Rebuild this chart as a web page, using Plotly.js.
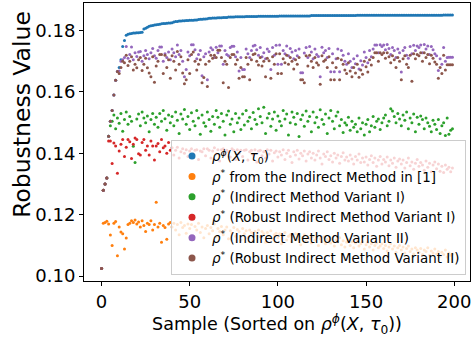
<!DOCTYPE html>
<html><head><meta charset="utf-8">
<script src="https://cdn.plot.ly/plotly-3.0.1.min.js"></script>
<style>html,body{margin:0;padding:0;background:#fff}#chart{width:476px;height:339px}</style>
</head><body><div id="chart"></div>
<script>
const seriesNames = [
  "<i>ρ</i><sup><i>ϕ</i></sup>(<i>X</i>, <i>τ</i><sub>0</sub>)",
  "<i>ρ</i><sup>*</sup> from the Indirect Method in [1]",
  "<i>ρ</i><sup>*</sup> (Indirect Method Variant I)",
  "<i>ρ</i><sup>*</sup> (Robust Indirect Method Variant I)",
  "<i>ρ</i><sup>*</sup> (Indirect Method Variant II)",
  "<i>ρ</i><sup>*</sup> (Robust Indirect Method Variant II)"
];
const colors = ["#1f77b4","#ff7f0e","#2ca02c","#d62728","#9467bd","#8c564b"];
const yTicks = [0.10,0.12,0.14,0.16,0.18];
const xTicks = [0,50,100,150,200];
const yLabel = "Robustness Value";
const xLabel = "Sample (Sorted on <i>ρ</i><sup><i>ϕ</i></sup>(<i>X</i>, <i>τ</i><sub>0</sub>))";

const rhoPhi = [
0.1025,0.1280,0.1300,0.1320,0.1456,0.1505,0.1540,0.1590,0.1638,0.1667,
0.1680,0.1705,0.1748,0.1768,0.1785,0.1788,0.1790,0.1791,0.1792,0.1792,
0.1793,0.1793,0.1794,0.1795,0.1805,0.1808,0.1811,0.1814,0.1816,0.1817,
0.1818,0.1819,0.1820,0.1821,0.1822,0.1823,0.1823,0.1824,0.1825,0.1825,
0.1826,0.1828,0.1830,0.1830,0.1831,0.1831,0.1832,0.1832,0.1833,0.1833,
0.1834,0.1834,0.1834,0.1835,0.1835,0.1836,0.1837,0.1837,0.1838,0.1838,
0.1839,0.1840,0.1840,0.1841,0.1841,0.1841,0.1842,0.1842,0.1842,0.1843,
0.1843,0.1843,0.1844,0.1844,0.1844,0.1844,0.1845,0.1845,0.1845,0.1845,
0.1845,0.1845,0.1846,0.1846,0.1846,0.1846,0.1846,0.1846,0.1846,0.1847,
0.1847,0.1847,0.1847,0.1847,0.1847,0.1847,0.1847,0.1847,0.1847,0.1847,
0.1847,0.1848,0.1848,0.1848,0.1848,0.1848,0.1848,0.1848,0.1848,0.1848,
0.1848,0.1848,0.1848,0.1848,0.1848,0.1848,0.1848,0.1848,0.1848,0.1849,
0.1849,0.1849,0.1849,0.1849,0.1849,0.1849,0.1849,0.1849,0.1849,0.1849,
0.1849,0.1849,0.1849,0.1849,0.1849,0.1849,0.1849,0.1849,0.1849,0.1849,
0.1849,0.1849,0.1849,0.1849,0.1849,0.1850,0.1850,0.1850,0.1850,0.1850,
0.1850,0.1850,0.1850,0.1850,0.1850,0.1850,0.1850,0.1850,0.1850,0.1850,
0.1850,0.1850,0.1850,0.1850,0.1850,0.1850,0.1850,0.1850,0.1850,0.1850,
0.1850,0.1850,0.1850,0.1850,0.1850,0.1850,0.1850,0.1850,0.1850,0.1850,
0.1850,0.1850,0.1850,0.1850,0.1850,0.1850,0.1850,0.1850,0.1850,0.1850,
0.1850,0.1850,0.1850,0.1850,0.1851,0.1851,0.1851,0.1851,0.1851,0.1851
];
const indirect = [
0.1025,0.1172,0.1175,0.1179,0.1170,0.1134,0.1100,0.1172,0.1178,0.1066,
0.1160,0.1144,0.1138,0.1088,0.1124,0.1168,0.1172,0.1180,0.1175,0.1183,
0.1170,0.1176,0.1160,0.1180,0.1165,0.1145,0.1172,0.1168,0.1180,0.1150,
0.1168,0.1241,0.1160,0.1172,0.1110,0.1165,0.1158,0.1120,0.1170,0.1175,
0.1160,0.1172,0.1150,0.1168,0.1135,0.1175,0.1158,0.1165,0.1140,0.1170,
0.1155,0.1168,0.1130,0.1162,0.1150,0.1172,0.1142,0.1160,0.1125,0.1155,
0.1165,0.1138,0.1158,0.1148,0.1170,0.1128,0.1155,0.1145,0.1162,0.1135,
0.1150,0.1160,0.1122,0.1148,0.1140,0.1158,0.1130,0.1152,0.1145,0.1118,
0.1155,0.1138,0.1148,0.1125,0.1150,0.1142,0.1115,0.1145,0.1132,0.1150,
0.1128,0.1145,0.1138,0.1110,0.1142,0.1130,0.1148,0.1120,0.1135,0.1140,
0.1125,0.1138,0.1105,0.1132,0.1142,0.1118,0.1130,0.1135,0.1112,0.1128,
0.1138,0.1120,0.1130,0.1102,0.1125,0.1135,0.1115,0.1128,0.1122,0.1108,
0.1130,0.1118,0.1125,0.1100,0.1122,0.1112,0.1128,0.1105,0.1120,0.1115,
0.1108,0.1122,0.1098,0.1118,0.1112,0.1125,0.1102,0.1115,0.1095,0.1110,
0.1118,0.1100,0.1112,0.1092,0.1108,0.1115,0.1098,0.1105,0.1112,0.1088,
0.1102,0.1110,0.1095,0.1105,0.1085,0.1100,0.1108,0.1092,0.1098,0.1105,
0.1090,0.1100,0.1082,0.1095,0.1105,0.1088,0.1098,0.1078,0.1092,0.1100,
0.1085,0.1095,0.1075,0.1090,0.1098,0.1080,0.1088,0.1072,0.1092,0.1085,
0.1078,0.1090,0.1070,0.1085,0.1080,0.1092,0.1068,0.1082,0.1075,0.1088,
0.1072,0.1080,0.1065,0.1078,0.1070,0.1085,0.1062,0.1075,0.1068,0.1072
];
const variantI = [
0.1025,0.1280,0.1300,0.1320,0.1456,0.1490,0.1505,0.1525,0.1480,0.1515,
0.1498,0.1530,0.1472,0.1510,0.1535,0.1495,0.1520,0.1505,0.1423,0.1370,
0.1512,0.1528,0.1490,0.1535,0.1515,0.1500,0.1522,0.1470,0.1510,0.1530,
0.1495,0.1518,0.1485,0.1530,0.1505,0.1540,0.1513,0.1475,0.1525,0.1500,
0.1520,0.1490,0.1535,0.1508,0.1465,0.1528,0.1512,0.1543,0.1495,0.1520,
0.1478,0.1532,0.1505,0.1490,0.1540,0.1515,0.1462,0.1525,0.1500,0.1488,
0.1535,0.1510,0.1472,0.1520,0.1495,0.1540,0.1518,0.1485,0.1530,0.1505,
0.1460,0.1525,0.1538,0.1495,0.1512,0.1470,0.1530,0.1500,0.1515,0.1478,
0.1528,0.1492,0.1540,0.1505,0.1518,0.1480,0.1533,0.1510,0.1495,0.1545,
0.1520,0.1500,0.1550,0.1465,0.1515,0.1530,0.1488,0.1512,0.1535,0.1475,
0.1522,0.1505,0.1490,0.1540,0.1512,0.1528,0.1460,0.1500,0.1535,0.1518,
0.1495,0.1530,0.1455,0.1510,0.1525,0.1488,0.1538,0.1505,0.1520,0.1470,
0.1535,0.1500,0.1518,0.1485,0.1542,0.1510,0.1495,0.1528,0.1465,0.1515,
0.1540,0.1505,0.1480,0.1522,0.1535,0.1490,0.1510,0.1468,0.1500,0.1492,
0.1518,0.1475,0.1505,0.1485,0.1495,0.1470,0.1515,0.1480,0.1500,0.1460,
0.1495,0.1510,0.1470,0.1490,0.1520,0.1485,0.1505,0.1512,0.1478,0.1500,
0.1515,0.1525,0.1490,0.1505,0.1545,0.1538,0.1520,0.1500,0.1530,0.1512,
0.1490,0.1525,0.1508,0.1535,0.1480,0.1515,0.1500,0.1528,0.1470,0.1518,
0.1495,0.1522,0.1510,0.1480,0.1515,0.1500,0.1488,0.1470,0.1508,0.1495,
0.1478,0.1510,0.1465,0.1490,0.1500,0.1458,0.1515,0.1462,0.1475,0.1480
];
const robustI = [
0.1025,0.1280,0.1300,0.1320,0.1440,0.1440,0.1367,0.1434,0.1424,0.1335,
0.1408,0.1430,0.1445,0.1390,0.1420,0.1445,0.1438,0.1383,0.1430,0.1450,
0.1445,0.1399,0.1395,0.1435,0.1445,0.1410,0.1424,0.1395,0.1440,0.1424,
0.1378,0.1424,0.1432,0.1405,0.1445,0.1418,0.1424,0.1400,0.1435,0.1410,
0.1418,0.1395,0.1410,0.1420,0.1385,0.1405,0.1415,0.1400,0.1412,0.1390,
0.1408,0.1415,0.1398,0.1410,0.1412,0.1380,0.1408,0.1405,0.1415,0.1392,
0.1415,0.1410,0.1385,0.1408,0.1418,0.1398,0.1412,0.1375,0.1412,0.1415,
0.1395,0.1410,0.1405,0.1388,0.1415,0.1410,0.1380,0.1412,0.1400,0.1410,
0.1390,0.1410,0.1412,0.1378,0.1405,0.1410,0.1395,0.1412,0.1372,0.1408,
0.1410,0.1392,0.1405,0.1385,0.1412,0.1398,0.1410,0.1375,0.1402,0.1408,
0.1388,0.1405,0.1395,0.1412,0.1380,0.1400,0.1410,0.1390,0.1370,0.1405,
0.1395,0.1410,0.1382,0.1400,0.1392,0.1408,0.1375,0.1398,0.1405,0.1385,
0.1400,0.1378,0.1395,0.1408,0.1385,0.1365,0.1398,0.1390,0.1405,0.1380,
0.1392,0.1372,0.1400,0.1385,0.1395,0.1368,0.1390,0.1402,0.1378,0.1388,
0.1375,0.1395,0.1382,0.1365,0.1390,0.1378,0.1398,0.1370,0.1385,0.1372,
0.1388,0.1362,0.1380,0.1392,0.1370,0.1385,0.1358,0.1378,0.1390,0.1365,
0.1380,0.1372,0.1388,0.1360,0.1378,0.1368,0.1385,0.1355,0.1375,0.1382,
0.1365,0.1378,0.1352,0.1370,0.1385,0.1360,0.1372,0.1348,0.1368,0.1380,
0.1358,0.1370,0.1362,0.1345,0.1375,0.1355,0.1368,0.1340,0.1362,0.1372,
0.1350,0.1365,0.1342,0.1358,0.1338,0.1362,0.1348,0.1355,0.1340,0.1352
];
const variantII = [
0.1025,0.1280,0.1300,0.1320,0.1456,0.1505,0.1540,0.1590,0.1638,0.1667,
0.1668,0.1700,0.1705,0.1712,0.1748,0.1710,0.1722,0.1747,0.1705,0.1728,
0.1716,0.1730,0.1732,0.1700,0.1718,0.1735,0.1722,0.1708,0.1728,0.1742,
0.1718,0.1710,0.1735,0.1747,0.1747,0.1700,0.1725,0.1712,0.1730,0.1705,
0.1740,0.1728,0.1715,0.1753,0.1722,0.1735,0.1700,0.1650,0.1673,0.1730,
0.1718,0.1754,0.1754,0.1738,0.1708,0.1722,0.1735,0.1653,0.1715,0.1725,
0.1640,0.1730,0.1744,0.1738,0.1712,0.1746,0.1728,0.1750,0.1750,0.1690,
0.1735,0.1722,0.1718,0.1745,0.1749,0.1749,0.1715,0.1730,0.1668,0.1712,
0.1673,0.1673,0.1740,0.1725,0.1712,0.1735,0.1750,0.1752,0.1738,0.1720,
0.1745,0.1715,0.1728,0.1708,0.1740,0.1732,0.1673,0.1745,0.1720,0.1752,
0.1690,0.1753,0.1690,0.1735,0.1725,0.1750,0.1718,0.1742,0.1730,0.1708,
0.1735,0.1718,0.1740,0.1663,0.1663,0.1727,0.1745,0.1712,0.1748,0.1730,
0.1708,0.1740,0.1722,0.1716,0.1650,0.1746,0.1728,0.1735,0.1712,0.1742,
0.1666,0.1725,0.1666,0.1708,0.1740,0.1666,0.1735,0.1720,0.1700,0.1690,
0.1725,0.1700,0.1680,0.1708,0.1692,0.1718,0.1675,0.1702,0.1688,0.1730,
0.1712,0.1695,0.1735,0.1715,0.1740,0.1753,0.1753,0.1728,0.1754,0.1748,
0.1753,0.1738,0.1755,0.1742,0.1722,0.1745,0.1735,0.1712,0.1740,0.1728,
0.1665,0.1735,0.1745,0.1720,0.1710,0.1748,0.1725,0.1752,0.1735,0.1750,
0.1745,0.1753,0.1728,0.1755,0.1740,0.1750,0.1722,0.1748,0.1738,0.1725,
0.1718,0.1670,0.1708,0.1690,0.1745,0.1700,0.1712,0.1713,0.1713,0.1713
];
const robustII = [
0.1025,0.1280,0.1300,0.1320,0.1456,0.1505,0.1540,0.1590,0.1638,0.1667,
0.1660,0.1680,0.1700,0.1695,0.1720,0.1686,0.1700,0.1715,0.1672,0.1690,
0.1679,0.1705,0.1712,0.1670,0.1690,0.1710,0.1679,0.1662,0.1650,0.1715,
0.1632,0.1685,0.1700,0.1722,0.1722,0.1660,0.1720,0.1680,0.1705,0.1645,
0.1718,0.1700,0.1672,0.1732,0.1690,0.1715,0.1662,0.1627,0.1640,0.1705,
0.1660,0.1722,0.1730,0.1700,0.1672,0.1690,0.1705,0.1630,0.1647,0.1690,
0.1618,0.1700,0.1720,0.1710,0.1720,0.1712,0.1736,0.1736,0.1712,0.1630,
0.1700,0.1690,0.1615,0.1712,0.1722,0.1722,0.1690,0.1705,0.1645,0.1680,
0.1650,0.1650,0.1712,0.1690,0.1640,0.1705,0.1722,0.1725,0.1700,0.1688,
0.1712,0.1685,0.1700,0.1650,0.1710,0.1702,0.1645,0.1715,0.1690,0.1725,
0.1660,0.1725,0.1660,0.1708,0.1695,0.1720,0.1690,0.1712,0.1700,0.1675,
0.1705,0.1690,0.1712,0.1640,0.1640,0.1630,0.1718,0.1685,0.1720,0.1700,
0.1680,0.1712,0.1695,0.1688,0.1625,0.1718,0.1700,0.1705,0.1680,0.1715,
0.1640,0.1695,0.1640,0.1680,0.1710,0.1640,0.1705,0.1690,0.1672,0.1660,
0.1695,0.1668,0.1650,0.1680,0.1662,0.1690,0.1648,0.1672,0.1658,0.1700,
0.1682,0.1665,0.1705,0.1688,0.1712,0.1728,0.1728,0.1700,0.1728,0.1722,
0.1728,0.1710,0.1728,0.1715,0.1695,0.1718,0.1705,0.1680,0.1712,0.1700,
0.1640,0.1708,0.1718,0.1690,0.1680,0.1720,0.1635,0.1725,0.1708,0.1722,
0.1718,0.1728,0.1700,0.1728,0.1712,0.1722,0.1692,0.1720,0.1710,0.1698,
0.1690,0.1645,0.1680,0.1660,0.1720,0.1672,0.1689,0.1689,0.1689,0.1689
];

const allSeries = [rhoPhi, indirect, variantI, robustI, variantII, robustII];
const FONT = "DejaVu Sans, sans-serif";
const traces = [];
allSeries.forEach((ys, i) => {
  traces.push({
    type: "scatter", mode: "markers", y: ys,
    marker: {color: colors[i], size: 3, line: {width: 0}},
    showlegend: false, hoverinfo: "skip"
  });
});
allSeries.forEach((ys, i) => {
  traces.push({
    type: "scatter", mode: "markers", x: [null], y: [null],
    name: seriesNames[i],
    marker: {color: colors[i], size: 7},
    showlegend: true
  });
});

const layout = {
  width: 476, height: 339,
  margin: {l: 84, r: 6, t: 3, b: 58},
  paper_bgcolor: "#fff", plot_bgcolor: "#fff",
  font: {family: FONT, color: "#000"},
  showlegend: true,
  legend: {
    x: 0.2254, y: 0.508, xanchor: "left", yanchor: "top",
    bgcolor: "rgba(255,255,255,0.8)", bordercolor: "#cccccc", borderwidth: 1,
    font: {family: FONT, size: 13.4, color: "#000"},
    tracegroupgap: 0
  },
  xaxis: {
    range: [-9.95, 208.95], tickvals: xTicks, ticktext: xTicks.map(String),
    showgrid: false, zeroline: false, showline: true, mirror: true,
    linecolor: "#000", linewidth: 1, ticks: "outside", ticklen: 4, tickcolor: "#000",
    tickfont: {family: FONT, size: 18},
    title: {text: xLabel, font: {family: FONT, size: 17.5}, standoff: 4}
  },
  yaxis: {
    range: [0.0984, 0.1890], tickvals: yTicks, ticktext: yTicks.map(v => v.toFixed(2)),
    showgrid: false, zeroline: false, showline: true, mirror: true,
    linecolor: "#000", linewidth: 1, ticks: "outside", ticklen: 4, tickcolor: "#000",
    tickfont: {family: FONT, size: 18}
  },
  annotations: [{
    text: yLabel, xref: "paper", yref: "paper", x: -0.161, y: 0.6007,
    xanchor: "center", yanchor: "middle", textangle: -90, showarrow: false,
    font: {family: FONT, size: 23.5, color: "#000"}
  }]
};
Plotly.newPlot("chart", traces, layout, {staticPlot: true, displayModeBar: false});
</script>
</body></html>
